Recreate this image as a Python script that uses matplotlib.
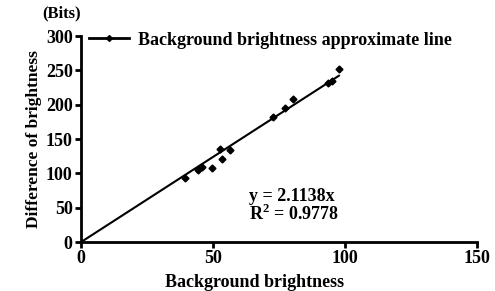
import numpy as np
import matplotlib
matplotlib.use("Agg")
import matplotlib.pyplot as plt

# measured points (background brightness vs difference of brightness)
bg_brightness = [39.4, 44.3, 45.8, 49.6, 52.7, 53.4, 56.4, 72.7, 77.3, 80.3, 93.6, 95.0, 97.7]
diff_brightness = [94, 105, 109, 108, 136, 121, 134, 182, 195, 209, 231, 235, 252]

eq_text = "y = 2.1138x\nR$^{2}$ = 0.9778"
legend_label = "Background brightness approximate line"

plt.rcParams["font.family"] = ["Liberation Serif", "DejaVu Serif"]
plt.rcParams["font.weight"] = "bold"
plt.rcParams["mathtext.fontset"] = "custom"
plt.rcParams["mathtext.rm"] = "Liberation Serif:bold"

fig = plt.figure(figsize=(4.95, 2.91), dpi=100)
ax = fig.add_axes([0.1636, 0.168, 0.8, 0.708])

x = np.array(bg_brightness)
y = np.array(diff_brightness)

# straight line through origin fitted to the points
slope = np.sum(x * y) / np.sum(x * x)
xl = np.array([0, x.max()])
ax.plot(xl, slope * xl, color="black", lw=1.5, zorder=2)
ax.plot(x, y, linestyle="none", marker="D", ms=3.5, color="black", zorder=3)

ax.set_xlim(0, 150)
ax.set_ylim(0, 300)
ax.set_xticks([0, 50, 100, 150])
ax.set_yticks([0, 50, 100, 150, 200, 250, 300])
for s in ["top", "right"]:
    ax.spines[s].set_visible(False)
for s in ["left", "bottom"]:
    ax.spines[s].set_linewidth(2)
ax.tick_params(width=2, length=4, labelsize=13, pad=2)
for lab in ax.get_xticklabels() + ax.get_yticklabels():
    lab.set_fontweight("bold")

ax.set_ylabel("Difference of brightness", fontsize=12.5, fontweight="bold", labelpad=3)
fig.text(0.515, 0.0, "Background brightness", fontsize=13, fontweight="bold",
         ha="center", va="bottom")
fig.text(0.085, 0.925, "(Bits)", fontsize=12, fontweight="bold", ha="left", va="bottom")

# legend-style key at top
h, = ax.plot([], [], color="black", lw=2, marker="D", ms=3)
ax.legend([h], [legend_label], loc="upper left", bbox_to_anchor=(-0.02, 1.1),
          frameon=False, handlelength=2.2, handletextpad=0.5,
          prop={"weight": "bold", "size": 13})

ax.text(0.425, 0.175, eq_text, transform=ax.transAxes, fontsize=13,
        fontweight="bold", ha="left", va="center", linespacing=0.95)

fig.savefig("out.png", dpi=100)
